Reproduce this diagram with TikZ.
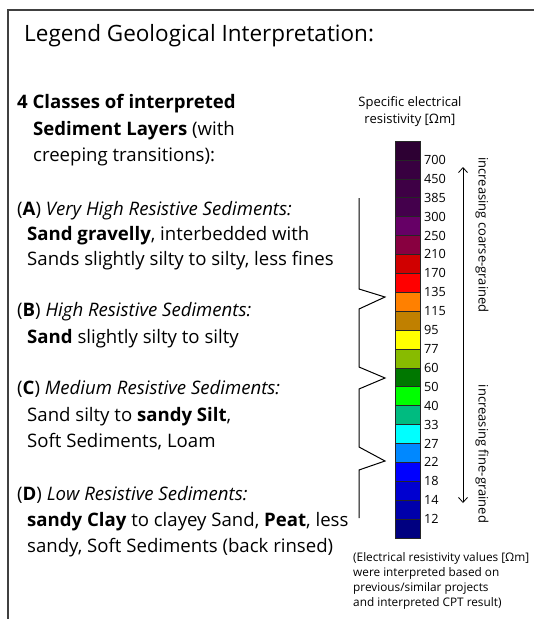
\documentclass[tikz,border=0pt]{standalone}
\usepackage{fontspec}
\setmainfont{Open Sans}
\usetikzlibrary{arrows.meta}

\definecolor{res1}{HTML}{2D0033}
\definecolor{res2}{HTML}{380040}
\definecolor{res3}{HTML}{3E0045}
\definecolor{res4}{HTML}{44004C}
\definecolor{res5}{HTML}{660066}
\definecolor{res6}{HTML}{880040}
\definecolor{res7}{HTML}{D00000}
\definecolor{res8}{HTML}{FF0000}
\definecolor{res9}{HTML}{FF8000}
\definecolor{res10}{HTML}{C08000}
\definecolor{res11}{HTML}{FFFF00}
\definecolor{res12}{HTML}{88BB00}
\definecolor{res13}{HTML}{007700}
\definecolor{res14}{HTML}{00FF00}
\definecolor{res15}{HTML}{00BB80}
\definecolor{res16}{HTML}{00FFFF}
\definecolor{res17}{HTML}{0088FF}
\definecolor{res18}{HTML}{0000FF}
\definecolor{res19}{HTML}{0000D0}
\definecolor{res20}{HTML}{0000AA}
\definecolor{res21}{HTML}{000080}

\begin{document}
\begin{tikzpicture}[
        x=1pt, y=-1pt,
        txt/.style={anchor=base west, inner sep=0pt, font=\fontsize{18.6}{22}\selectfont},
        lbl/.style={anchor=west, inner sep=0pt, font=\fontsize{12.7}{14}\selectfont},
        small/.style={inner sep=0pt, font=\fontsize{11.8}{15}\selectfont}
    ]
        \useasboundingbox (0,0) rectangle (534,619);
        \draw[line width=1.6pt, black!75] (8,619) -- (8,10) -- (534,10);

        \node [anchor=base west, inner sep=0pt, font=\fontsize{22.5}{26}\selectfont] (title) at (24,41) {Legend Geological Interpretation:};

        \node [txt] (head1) at (17,108) {\textbf{4 Classes of interpreted}};
        \node [txt] (head2) at (33,135) {\textbf{Sediment Layers} (with};
        \node [txt] (head3) at (33,161) {creeping transitions):};

        \node [txt] (clsA1) at (17,215) {(\textbf{A}) \textit{Very High Resistive Sediments:}};
        \node [txt] (clsA2) at (27,240) {\textbf{Sand gravelly}, interbedded with};
        \node [txt] (clsA3) at (27,265) {Sands slightly silty to silty, less fines};

        \node [txt] (clsB1) at (17,316) {(\textbf{B}) \textit{High Resistive Sediments:}};
        \node [txt] (clsB2) at (27,343) {\textbf{Sand} slightly silty to silty};

        \node [txt] (clsC1) at (17,394) {(\textbf{C}) \textit{Medium Resistive Sediments:}};
        \node [txt] (clsC2) at (27,421) {Sand silty to \textbf{sandy Silt},};
        \node [txt] (clsC3) at (27,447) {Soft Sediments, Loam};

        \node [txt] (clsD1) at (17,500) {(\textbf{D}) \textit{Low Resistive Sediments:}};
        \node [txt] (clsD2) at (27,526) {\textbf{sandy Clay} to clayey Sand, \textbf{Peat}, less};
        \node [txt] (clsD3) at (27,552) {sandy, Soft Sediments (back rinsed)};

        % zigzag de las clases
        \draw[line width=1pt] (359,198) -- (359,289) -- (385,297) -- (359,309) -- (359,367)
            -- (385,378) -- (359,389) -- (359,447) -- (385,461) -- (359,470) -- (359,518);

        \node [inner sep=0pt, align=center, font=\fontsize{13}{17}\selectfont] (scaleHead) at (410,112) {Specific electrical\\resistivity [Ωm]};

        % barra de colores
        \foreach \i in {1,...,21}
            \draw[fill=res\i, draw=black!85, line width=0.6pt] (395,{141+(\i-1)*18.9}) rectangle ++(25,18.9);
        \foreach \v [count=\i] in {700,450,385,300,250,210,170,135,115,95,77,60,50,40,33,27,22,18,14,12}
            \node [lbl] (val\i) at (424,{141+\i*18.9}) {\v};

        \coordinate (arrTop) at (463,167);
        \coordinate (arrBot) at (463,503);
        \draw[{Straight Barb[length=5pt,width=9pt]}-{Straight Barb[length=5pt,width=9pt]}, line width=0.8pt] (arrTop) -- (arrBot);

        \node [lbl, font=\fontsize{13}{15}\selectfont, anchor=center, rotate=-90] (coarse) at (482,235) {increasing coarse-grained};
        \node [lbl, font=\fontsize{13}{15}\selectfont, anchor=center, rotate=-90] (fine) at (482,454) {increasing fine-grained};

        \node [small, anchor=north west, align=left] (note) at (353,552) {(Electrical resistivity values [Ωm]\\were interpreted based on\\previous/similar projects\\and interpreted CPT result)};
    \end{tikzpicture}
\end{document}
